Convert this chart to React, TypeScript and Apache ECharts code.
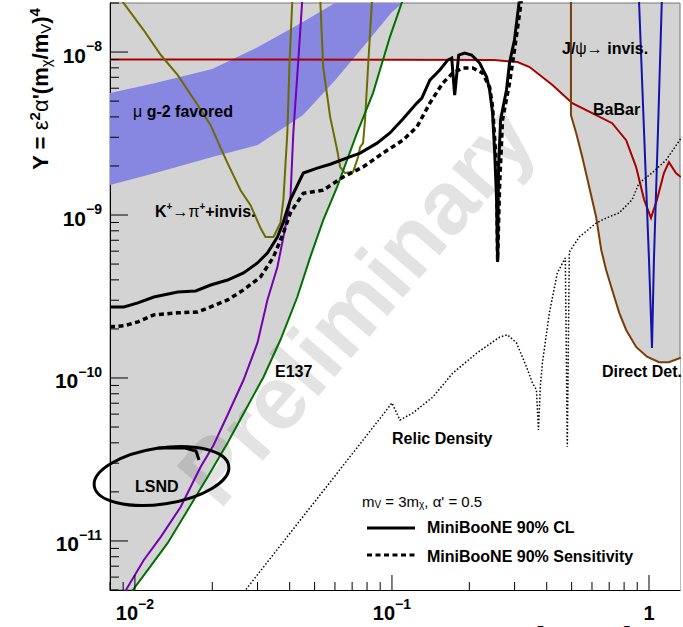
import React, { useEffect, useRef } from 'react';
import * as echarts from 'echarts';

const FONT = '"Liberation Sans", Arial, Helvetica, sans-serif';
const X_MIN = 0.008;
const X_MAX = 1.32;
const Y_MIN = 5e-12;
const Y_MAX = 2e-8;

// mu g-2 favored band
const g2Upper = [[0.008, 5.6e-9], [0.012, 6.45e-9], [0.02, 7.87e-9], [0.03, 1.07e-8], [0.045, 1.53e-8], [0.06, 2.0e-8]];
const g2Lower = [[0.008, 1.53e-9], [0.012, 1.81e-9], [0.02, 2.27e-9], [0.03, 2.69e-9], [0.045, 4.1e-9], [0.06, 6.7e-9], [0.08, 1.15e-8], [0.1, 1.76e-8], [0.11, 2.0e-8]];

const babar = [[0.008, 9.0e-9], [0.1, 8.98e-9], [0.25, 8.93e-9], [0.308, 8.68e-9], [0.343, 8.09e-9], [0.421, 6.28e-9], [0.503, 4.86e-9], [0.623, 4.1e-9], [0.719, 3.66e-9], [0.815, 2.88e-9], [0.891, 1.97e-9], [0.957, 1.24e-9], [1.018, 9.6e-10], [1.074, 1.24e-9], [1.143, 1.81e-9], [1.195, 2.11e-9], [1.273, 1.81e-9], [1.33, 1.71e-9]];

const directDet = [[0.497, 2.1e-8], [0.497, 4.1e-9], [0.521, 3.18e-9], [0.55, 2.27e-9], [0.585, 1.49e-9], [0.623, 9.7e-10], [0.652, 6.1e-10], [0.681, 4.6e-10], [0.719, 3.47e-10], [0.766, 2.51e-10], [0.815, 1.97e-10], [0.891, 1.55e-10], [0.982, 1.35e-10], [1.094, 1.25e-10], [1.195, 1.25e-10], [1.33, 1.33e-10]];

const jpsi = [[0.914, 2.1e-8], [0.956, 3.32e-9], [1.0, 5.3e-10], [1.027, 1.53e-10], [1.045, 5.3e-10], [1.084, 3.32e-9], [1.122, 2.1e-8]];

const kaonA = [[0.00883, 2.1e-8], [0.01083, 1.36e-8], [0.01261, 9.59e-9], [0.01468, 7.22e-9], [0.01754, 4.73e-9], [0.01971, 3.56e-9], [0.02154, 2.58e-9], [0.02293, 2.08e-9], [0.02576, 1.42e-9], [0.02817, 1.15e-9], [0.0308, 8.32e-10], [0.03221, 7.33e-10], [0.03459, 7.33e-10], [0.03681, 8.93e-10], [0.03781, 1.24e-9], [0.03917, 3.19e-9], [0.0399, 8.09e-9], [0.04097, 2.1e-8]];
const kaonB = [[0.0526, 2.1e-8], [0.05402, 8.09e-9], [0.0575, 3.99e-9], [0.0612, 2.51e-9], [0.06286, 1.97e-9], [0.06573, 1.81e-9], [0.0706, 1.84e-9], [0.07383, 2.27e-9], [0.07516, 2.61e-9], [0.07718, 2.76e-9], [0.07857, 3.83e-9], [0.08072, 8.09e-9], [0.08366, 2.1e-8]];

const lsnd = [[0.0089, 4.6e-12], [0.00923, 5.0e-12], [0.01083, 7.64e-12], [0.01261, 1.06e-11], [0.01508, 1.62e-11], [0.01803, 2.85e-11], [0.02024, 3.88e-11], [0.02293, 5.93e-11], [0.02645, 9.72e-11], [0.02997, 1.64e-10], [0.03277, 3.01e-10], [0.03584, 4.8e-10], [0.03781, 7.33e-10], [0.04025, 1.24e-9], [0.04133, 3.19e-9], [0.04322, 8.93e-9], [0.04479, 2.1e-8]];

const e137 = [[0.0095, 4.6e-12], [0.00982, 5.0e-12], [0.01123, 6.64e-12], [0.01342, 9.72e-12], [0.01605, 1.55e-11], [0.01918, 2.47e-11], [0.02293, 3.99e-11], [0.02693, 6.37e-11], [0.03162, 1.01e-10], [0.03681, 1.71e-10], [0.04283, 3.14e-10], [0.0481, 5.52e-10], [0.05402, 9.31e-10], [0.0612, 1.49e-9], [0.07316, 3.19e-9], [0.0844, 5.6e-9], [0.09822, 1.24e-8], [0.1103, 2.1e-8]];

// corners of the allowed (white) region where the bounding curves meet
const allowedJoins = { e137Babar: [0.0923, 9.0e-9], babarDirect: [0.497, 4.95e-9] };

const miniCL = [[0.008, 2.73e-10], [0.00906, 2.73e-10], [0.01027, 2.89e-10], [0.01185, 3.14e-10], [0.01468, 3.37e-10], [0.01723, 3.42e-10], [0.01971, 3.72e-10], [0.02293, 3.99e-10], [0.02645, 4.41e-10], [0.02997, 5.08e-10], [0.03277, 5.85e-10], [0.03584, 7.33e-10], [0.03781, 9.06e-10], [0.04025, 1.24e-9], [0.04519, 1.81e-9], [0.0512, 1.94e-9], [0.0575, 2.05e-9], [0.06694, 2.24e-9], [0.07516, 2.4e-9], [0.08746, 2.76e-9], [0.09822, 3.19e-9], [0.1103, 3.88e-9], [0.125, 4.86e-9], [0.1307, 5.22e-9], [0.1404, 6.73e-9], [0.1535, 7.76e-9], [0.1648, 8.93e-9], [0.1708, 9.19e-9], [0.1754, 5.45e-9], [0.1818, 9.59e-9], [0.1918, 9.86e-9], [0.2042, 9.59e-9], [0.2194, 8.56e-9], [0.2335, 7.03e-9], [0.2398, 5.85e-9], [0.2463, 4.22e-9], [0.2507, 2.51e-9], [0.2553, 1.24e-9], [0.2576, 5.15e-10], [0.2599, 1.97e-9], [0.2646, 3.83e-9], [0.2692, 4.41e-9], [0.279, 5.85e-9], [0.2866, 8.56e-9], [0.2997, 1.19e-8], [0.3133, 2.1e-8]];

const miniSens = [[0.008, 2.06e-10], [0.00906, 2.09e-10], [0.01027, 2.21e-10], [0.01185, 2.44e-10], [0.01468, 2.51e-10], [0.01754, 2.54e-10], [0.01971, 2.73e-10], [0.02293, 3.01e-10], [0.02645, 3.47e-10], [0.0308, 4.17e-10], [0.03459, 5.52e-10], [0.03781, 7.76e-10], [0.04025, 1.03e-9], [0.04519, 1.36e-9], [0.05402, 1.42e-9], [0.06457, 1.71e-9], [0.07718, 1.97e-9], [0.09228, 2.4e-9], [0.1103, 2.88e-9], [0.125, 3.47e-9], [0.1404, 4.86e-9], [0.1576, 6.45e-9], [0.1723, 7.43e-9], [0.1885, 7.98e-9], [0.2061, 7.98e-9], [0.2253, 7.43e-9], [0.2398, 6.1e-9], [0.2463, 4.6e-9], [0.2553, 1.97e-9], [0.2576, 5.3e-10], [0.2622, 1.49e-9], [0.2692, 3.83e-9], [0.2866, 6.45e-9], [0.2997, 1.03e-8], [0.319, 2.1e-8]];

const relic = [[0.0265, 4.6e-12], [0.02693, 5.0e-12], [0.06573, 3.01e-11], [0.09395, 6.18e-11], [0.1, 7.03e-11], [0.1074, 5.52e-11], [0.1206, 6.1e-11], [0.1442, 7.64e-11], [0.1723, 1.07e-10], [0.2136, 1.42e-10], [0.2622, 1.78e-10], [0.2815, 1.84e-10], [0.3051, 1.64e-10], [0.3337, 1.17e-10], [0.352, 9.31e-11], [0.3648, 8.44e-11], [0.3714, 4.8e-11], [0.3781, 9.05e-11], [0.3849, 1.24e-10], [0.4097, 2.51e-10], [0.4399, 4.41e-10], [0.4725, 5.45e-10], [0.481, 3.78e-11], [0.4897, 5.93e-10], [0.5355, 7.33e-10], [0.623, 8.93e-10], [0.6813, 9.59e-10], [0.7649, 1.03e-9], [0.8593, 1.24e-9], [0.914, 1.57e-9], [1.027, 1.81e-9], [1.164, 2.17e-9], [1.342, 3.01e-9]];

const C = {
  gray: '#d3d3d3',
  band: '#8787e2',
  red: '#a80000',
  brown: '#7a3d08',
  blue: '#1414a8',
  olive: '#6b6b00',
  purple: '#7400b0',
  green: '#007000',
};

function buildAllowed(): number[][] {
  const bLevel = allowedJoins.e137Babar[1];
  const left = e137.filter((p) => p[1] < bLevel);
  const top = babar.filter((p) => p[0] > allowedJoins.e137Babar[0] && p[0] < allowedJoins.babarDirect[0]);
  const right = directDet.filter((p) => p[1] < allowedJoins.babarDirect[1]);
  return [
    ...left,
    allowedJoins.e137Babar,
    ...top,
    allowedJoins.babarDirect,
    ...right,
    [X_MAX * 1.05, right[right.length - 1][1]],
    [X_MAX * 1.05, Y_MIN * 0.9],
    [left[0][0], Y_MIN * 0.9],
  ];
}

function polySeries(name: string, pts: number[][], fill: string, z: number) {
  return {
    type: 'custom',
    name,
    z,
    clip: true,
    silent: true,
    data: [[X_MIN, Y_MIN]],
    renderItem: (_p: any, api: any) => ({
      type: 'polygon',
      shape: { points: pts.map((p) => api.coord(p)) },
      style: { fill },
    }),
  };
}

function lineSeries(name: string, data: number[][], color: string, width: number, type: any = 'solid', z = 4) {
  return {
    type: 'line',
    name,
    data,
    z,
    symbol: 'none',
    showSymbol: false,
    clip: true,
    silent: true,
    lineStyle: { color, width, type, cap: 'butt', join: 'miter' },
  };
}

function isPow10(v: number) {
  const e = Math.log10(v);
  return Math.abs(e - Math.round(e)) < 1e-6;
}

function tickValues(lo: number, hi: number): number[] {
  const out: number[] = [];
  for (let e = Math.floor(Math.log10(lo)); e <= Math.ceil(Math.log10(hi)); e++) {
    for (let k = 1; k <= 9; k++) {
      const v = k * Math.pow(10, e);
      if (v >= lo * 0.9999 && v <= hi * 1.0001) out.push(v);
    }
  }
  return out;
}

function labelFormatter(v: number) {
  if (!isPow10(v)) return '';
  const e = Math.round(Math.log10(v));
  if (e === 0) return '{b|1}';
  return `{b|10}{s|${e < 0 ? '\u2212' : ''}${Math.abs(e)}}`;
}

const axisRich = (size: number) => ({
  b: { fontFamily: FONT, fontWeight: 'bold', fontSize: size, color: '#000', padding: [6, 0, 0, 0] },
  s: { fontFamily: FONT, fontWeight: 'bold', fontSize: Math.round(size * 0.68), color: '#000', padding: [0, 0, 12, 0] },
});

function txt(x: number, y: number, text: string, rich: any, extra: any = {}) {
  return {
    type: 'text',
    x,
    y,
    z: 10,
    silent: true,
    style: {
      text,
      rich,
      align: 'left',
      verticalAlign: 'middle',
      textAlign: 'left',
      textVerticalAlign: 'middle',
      ...extra,
    },
  };
}

const labelRich = (color: string, size = 16) => ({
  b: { fontFamily: FONT, fontWeight: 'bold', fontSize: size, color },
  n: { fontFamily: FONT, fontWeight: 'normal', fontSize: size, color },
  sup: { fontFamily: FONT, fontWeight: 'bold', fontSize: Math.round(size * 0.65), color, padding: [0, 0, 9, 0] },
  sub: { fontFamily: FONT, fontWeight: 'normal', fontSize: Math.round(size * 0.65), color, padding: [7, 0, 0, 0] },
});

export default function App() {
  const ref = useRef<HTMLDivElement>(null);
  useEffect(() => {
    const chart = echarts.init(ref.current!, null, { renderer: 'svg' });
    const xTicks = tickValues(X_MIN, X_MAX).map((v) => [v, Y_MIN]);
    const yTicks = tickValues(Y_MIN, Y_MAX).map((v) => [X_MIN, v]);

    const titleRich = {
      b: { fontFamily: FONT, fontWeight: 'bold', fontSize: 22, color: '#000' },
      g: { fontFamily: FONT, fontWeight: 'normal', fontSize: 22, color: '#000' },
      sup: { fontFamily: FONT, fontWeight: 'bold', fontSize: 15, color: '#000', padding: [0, 0, 12, 0] },
      sub: { fontFamily: FONT, fontWeight: 'normal', fontSize: 15, color: '#000', padding: [10, 0, 0, 0] },
    };

    const option: any = {
      animation: false,
      backgroundColor: '#fff',
      grid: {
        left: 110,
        top: 3,
        right: 2,
        bottom: 37,
        show: true,
        backgroundColor: C.gray,
        borderColor: '#777',
        borderWidth: 1,
        containLabel: false,
      },
      xAxis: {
        type: 'log',
        logBase: 10,
        min: X_MIN,
        max: X_MAX,
        axisLine: { show: true, lineStyle: { color: '#000', width: 1 } },
        axisTick: { show: false },
        splitLine: { show: false },
        axisLabel: {
          show: true,
          margin: 7,
          formatter: labelFormatter,
          rich: axisRich(20),
          showMinLabel: true,
          showMaxLabel: true,
        },
      },
      yAxis: {
        type: 'log',
        logBase: 10,
        min: Y_MIN,
        max: Y_MAX,
        axisLine: { show: true, lineStyle: { color: '#000', width: 1 } },
        axisTick: { show: false },
        splitLine: { show: false },
        axisLabel: {
          show: true,
          margin: 8,
          formatter: labelFormatter,
          rich: axisRich(21),
        },
      },
      graphic: {
        elements: [
          {
            type: 'text',
            x: 356,
            y: 305,
            rotation: 0.86,
            z: 3,
            silent: true,
            style: {
              text: 'Preliminary',
              fontFamily: FONT,
              fontWeight: 'bold',
              fontSize: 90,
              fill: 'rgba(0,0,0,0.11)',
              align: 'center',
              verticalAlign: 'middle',
              textAlign: 'center',
              textVerticalAlign: 'middle',
            },
          },
          {
            type: 'text',
            x: 40,
            y: 89,
            rotation: Math.PI / 2,
            z: 10,
            silent: true,
            style: {
              text: "{b|Y = }{g|\u03b5}{sup|2}{g|\u03b1}{b|'(m}{sub|\u03c7}{b|/m}{sub|V}{b|)}{sup|4}",
              rich: titleRich,
              align: 'center',
              verticalAlign: 'middle',
              textAlign: 'center',
              textVerticalAlign: 'middle',
            },
          },
          txt(133, 111, '{n|\u03bc }{b|g-2 favored}', labelRich('#000')),
          txt(155, 211, '{b|K}{sup|+}{n|\u2192}{n|\u03c0}{sup|+}{b|+invis.}', labelRich(C.olive)),
          txt(562, 48, '{b|J/}{n|\u03c8}{n|\u2192 }{b|invis.}', labelRich(C.blue)),
          txt(593, 109, '{b|BaBar}', labelRich(C.red)),
          txt(602, 371, '{b|Direct Det.}', labelRich(C.brown)),
          txt(275, 371, '{b|E137}', labelRich(C.green)),
          txt(135, 486, '{b|LSND}', labelRich(C.purple)),
          txt(392, 438, '{b|Relic Density}', labelRich('#000')),
          txt(362, 501, "{n|m}{sub|V}{n| = 3m}{sub|\u03c7}{n|, \u03b1' = 0.5}", labelRich('#000', 15)),
          txt(427, 527, '{b|MiniBooNE 90% CL}', labelRich('#000')),
          txt(427, 556, '{b|MiniBooNE 90% Sensitivity}', labelRich('#000')),
          {
            type: 'line',
            z: 10,
            silent: true,
            shape: { x1: 367, y1: 528, x2: 415, y2: 528 },
            style: { stroke: '#000', lineWidth: 3 },
          },
          {
            type: 'line',
            z: 10,
            silent: true,
            shape: { x1: 367, y1: 555, x2: 415, y2: 555 },
            style: { stroke: '#000', lineWidth: 3, lineDash: [5, 3.5] },
          },
          {
            type: 'ellipse',
            z: 10,
            silent: true,
            x: 161.5,
            y: 476,
            rotation: 0.15,
            shape: { cx: 0, cy: 0, rx: 68, ry: 28 },
            style: { fill: 'none', stroke: '#000', lineWidth: 3 },
          },
          {
            type: 'polyline',
            z: 10,
            silent: true,
            shape: { points: [[158, 448], [185, 448], [196, 451], [199, 460]] },
            style: { fill: 'none', stroke: '#000', lineWidth: 3 },
          },
          {
            type: 'text',
            x: 470,
            y: 621,
            z: 10,
            silent: true,
            style: {
              text: '{b|m}{sub|\u03c7}{b| (GeV)}',
              rich: {
                b: { fontFamily: FONT, fontWeight: 'bold', fontSize: 40, color: '#000' },
                sub: { fontFamily: FONT, fontWeight: 'normal', fontSize: 26, color: '#000', padding: [16, 0, 0, 0] },
              },
              align: 'left',
              verticalAlign: 'top',
              textAlign: 'left',
              textVerticalAlign: 'top',
            },
          },
        ],
      },
      series: [
        polySeries('allowed', buildAllowed(), '#ffffff', 1),
        polySeries('g-2 band', [...g2Upper, ...g2Lower.slice().reverse()], C.band, 1),
        lineSeries('BaBar', babar, C.red, 2),
        lineSeries('Direct Det.', directDet, C.brown, 2),
        lineSeries('J/psi', jpsi, C.blue, 2),
        lineSeries('K+ a', kaonA, C.olive, 2),
        lineSeries('K+ b', kaonB, C.olive, 2),
        lineSeries('LSND', lsnd, C.purple, 2),
        lineSeries('E137', e137, C.green, 2),
        lineSeries('Relic Density', relic, '#000', 1.5, [1.5, 2]),
        lineSeries('MiniBooNE 90% Sensitivity', miniSens, '#000', 3.5, [5, 3.5], 5),
        lineSeries('MiniBooNE 90% CL', miniCL, '#000', 3, 'solid', 5),
        {
          type: 'custom',
          name: 'xticks',
          z: 8,
          silent: true,
          clip: false,
          data: xTicks,
          renderItem: (_p: any, api: any) => {
            const v = api.value(0);
            const p = api.coord([v, api.value(1)]);
            const len = isPow10(v) ? 15 : 8;
            return { type: 'line', shape: { x1: p[0], y1: p[1], x2: p[0], y2: p[1] - len }, style: { stroke: '#000', lineWidth: 1 } };
          },
        },
        {
          type: 'custom',
          name: 'yticks',
          z: 8,
          silent: true,
          clip: false,
          data: yTicks,
          renderItem: (_p: any, api: any) => {
            const v = api.value(1);
            const p = api.coord([api.value(0), v]);
            const len = isPow10(v) ? 18 : 9;
            return { type: 'line', shape: { x1: p[0], y1: p[1], x2: p[0] + len, y2: p[1] }, style: { stroke: '#000', lineWidth: 1 } };
          },
        },
      ],
    };
    chart.setOption(option);
    return () => chart.dispose();
  }, []);
  return (
    <div
      ref={ref}
      style={{ position: 'fixed', left: 0, top: 0, width: 683, height: 627, background: '#fff' }}
    />
  );
}
